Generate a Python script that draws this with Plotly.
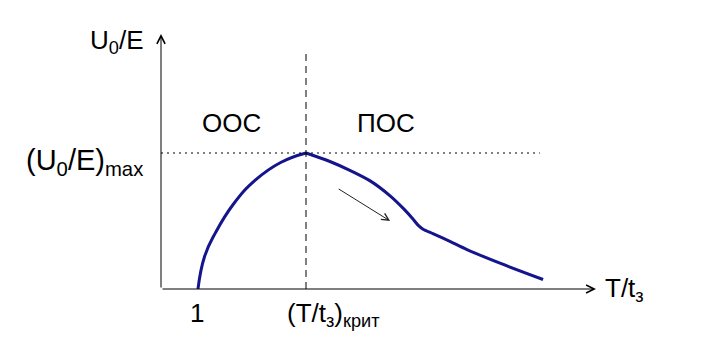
import plotly.graph_objects as go

# Normalised response U0/E against T/tз: rising branch (negative feedback, ООС)
x_rise = [1.02, 1.20, 1.50, 2.00, 2.60, 3.30, 4.0]
y_rise = [0.0, 0.95, 1.65, 2.50, 3.20, 3.72, 4.0]

# falling branch (positive feedback, ПОС)
x_fall = [4.0, 4.66, 5.21, 5.77, 6.32, 6.73, 6.95, 7.09, 7.23, 7.50, 7.97, 8.44, 9.35, 10.54]
y_fall = [4.0, 3.75, 3.49, 3.18, 2.74, 2.32, 2.06, 1.88, 1.76, 1.63, 1.40, 1.16, 0.76, 0.28]

x_one = 1.0          # T/tз = 1
x_crit = 4.0         # (T/tз)крит
y_max = 4.0          # (U0/E)max
x_axis_end = 12.0
y_axis_end = 7.5
x_dotted_end = 10.45
y_dashed_end = 7.0
trend_from = (4.86, 2.97)
trend_to = (6.32, 2.0)

FONT = "Liberation Sans, Arial, sans-serif"
CURVE = "#14148c"

fig = go.Figure()

for xs, ys, sm in ((x_rise, y_rise, 1.3), (x_fall, y_fall, 0.8)):
    fig.add_trace(go.Scatter(
        x=xs, y=ys, mode="lines",
        line=dict(color=CURVE, width=3, shape="spline", smoothing=sm),
        hoverinfo="skip", showlegend=False,
    ))

# guide lines through the maximum
fig.add_shape(type="line", x0=x_crit, x1=x_crit, y0=0, y1=y_dashed_end,
              xref="x", yref="y", line=dict(color="black", width=1, dash="7px,5px"))
fig.add_shape(type="line", x0=0, x1=x_dotted_end, y0=y_max, y1=y_max,
              xref="x", yref="y", line=dict(color="black", width=1, dash="2px,4px"))

arrow = dict(xref="x", yref="y", axref="x", ayref="y", text="", showarrow=True,
             arrowhead=5, arrowwidth=1, arrowsize=1.6, arrowcolor="black",
             standoff=0, startstandoff=0)
# axes with arrow heads
fig.add_annotation(x=x_axis_end, y=0, ax=0, ay=0, **arrow)
fig.add_annotation(x=0, y=y_axis_end, ax=0, ay=0, **arrow)
# trend arrow along the falling branch
fig.add_annotation(x=trend_to[0], y=trend_to[1], ax=trend_from[0], ay=trend_from[1],
                   **{**arrow, "arrowcolor": "#222222", "arrowsize": 1.4})

txt = dict(xref="paper", yref="paper", showarrow=False,
           font=dict(family=FONT, size=26, color="black"))
fig.add_annotation(x=-0.037, y=0.969, text="U<sub>0</sub>/E", xanchor="right", yanchor="middle", **txt)
fig.add_annotation(x=-0.037, y=0.50, text="(U<sub>0</sub>/E)<sub>max</sub>", xanchor="right", yanchor="middle",
                   **{**txt, "font": dict(family=FONT, size=29, color="black")})
fig.add_annotation(x=0.162, y=0.651, text="ООС", xanchor="center", yanchor="middle", **txt)
fig.add_annotation(x=0.517, y=0.651, text="ПОС", xanchor="center", yanchor="middle", **txt)
fig.add_annotation(x=x_one / x_axis_end, y=-0.095, text="1", xanchor="center", yanchor="middle", **txt)
fig.add_annotation(x=0.285, y=-0.10, text="(T/t<sub>з</sub>)<sub>крит</sub>", xanchor="left", yanchor="middle", **txt)
fig.add_annotation(x=1.016, y=0.0, text="T/t<sub>з</sub>", xanchor="left", yanchor="middle", **txt)

fig.update_layout(
    width=712, height=350,
    margin=dict(l=161, r=116, t=34, b=61),
    paper_bgcolor="white", plot_bgcolor="white",
    xaxis=dict(range=[0, x_axis_end], visible=False, fixedrange=True),
    yaxis=dict(range=[0, y_axis_end], visible=False, fixedrange=True),
    showlegend=False,
)

fig.write_html("out.html")
